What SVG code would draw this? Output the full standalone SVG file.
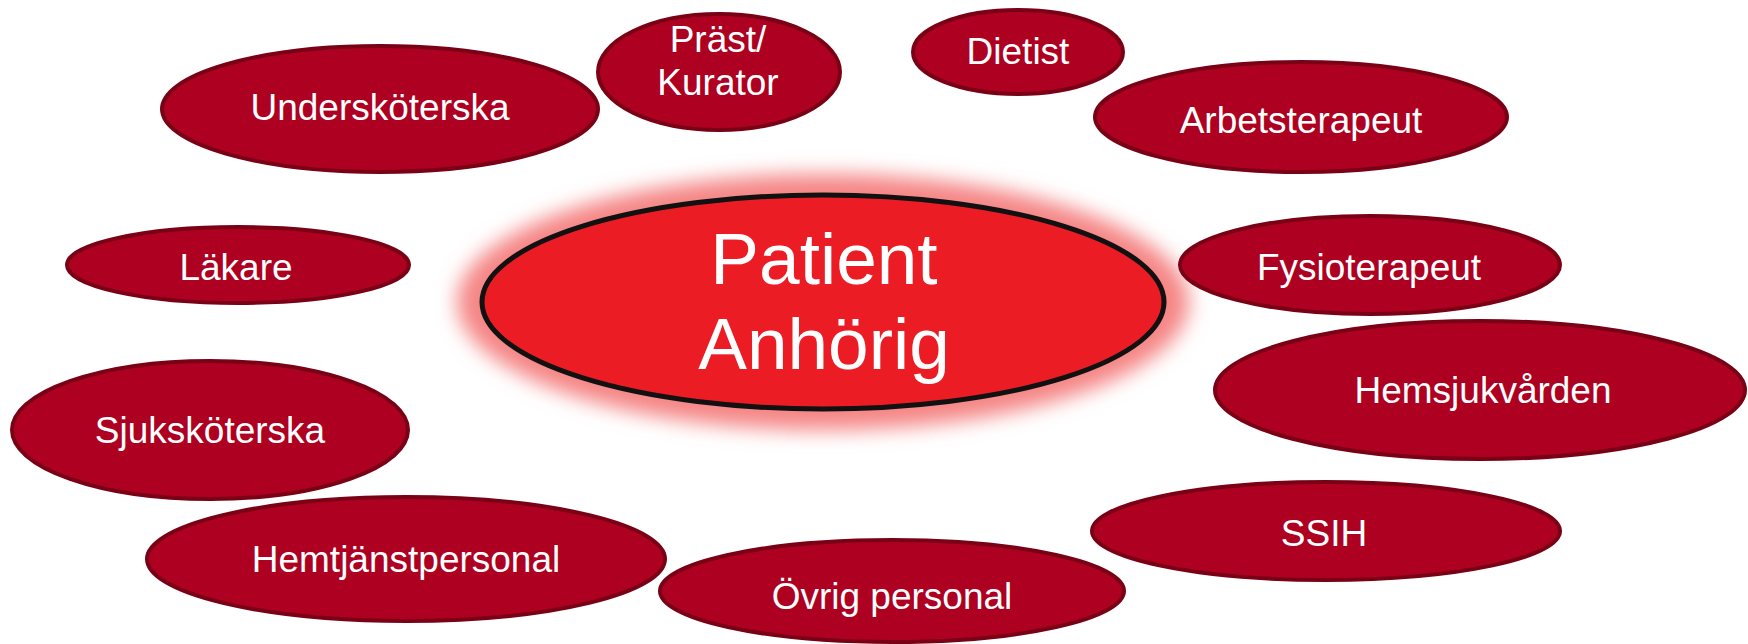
<svg xmlns="http://www.w3.org/2000/svg" width="1748" height="644" viewBox="0 0 1748 644">
<defs>
<style>
.n ellipse{fill:#ae0020;stroke:#7a0016;stroke-width:4}
.n text, .c text{font-family:"Liberation Sans",Arial,sans-serif;fill:#fff;text-anchor:middle}
.n text{font-size:37px}
.c text{font-size:73px}
</style>
<filter id="glow" x="-20%" y="-50%" width="140%" height="200%">
<feGaussianBlur stdDeviation="10"/>
</filter>
</defs>
<rect width="1748" height="644" fill="#fff"/>
<g id="connectors"/>
<g id="patient" class="c">
<ellipse cx="823" cy="302" rx="366" ry="128" fill="#f58585" filter="url(#glow)"/>
<ellipse cx="823" cy="302" rx="341" ry="107" fill="#ec1c24" stroke="#111" stroke-width="5"/>
<text x="824" y="284">Patient</text>
<text x="824" y="369">Anhörig</text>
</g>
<g id="underskoterska" class="n">
<ellipse cx="380" cy="109" rx="218" ry="63"/>
<text x="380" y="120">Undersköterska</text>
</g>
<g id="prast" class="n">
<ellipse cx="719" cy="72" rx="121" ry="58"/>
<text x="718" y="52">Präst/</text>
<text x="718" y="95">Kurator</text>
</g>
<g id="dietist" class="n">
<ellipse cx="1018" cy="52" rx="105" ry="42"/>
<text x="1018" y="64">Dietist</text>
</g>
<g id="arbetsterapeut" class="n">
<ellipse cx="1301" cy="117" rx="206" ry="55"/>
<text x="1301" y="133">Arbetsterapeut</text>
</g>
<g id="lakare" class="n">
<ellipse cx="238" cy="265" rx="171" ry="38"/>
<text x="236" y="280">Läkare</text>
</g>
<g id="fysioterapeut" class="n">
<ellipse cx="1370" cy="265" rx="190" ry="49"/>
<text x="1369" y="280">Fysioterapeut</text>
</g>
<g id="hemsjukvarden" class="n">
<ellipse cx="1480" cy="390" rx="265" ry="69"/>
<text x="1483" y="403">Hemsjukvården</text>
</g>
<g id="sjukskoterska" class="n">
<ellipse cx="210" cy="430" rx="198" ry="69"/>
<text x="210" y="443">Sjuksköterska</text>
</g>
<g id="hemtjanstpersonal" class="n">
<ellipse cx="406" cy="559" rx="259" ry="62"/>
<text x="406" y="572">Hemtjänstpersonal</text>
</g>
<g id="ovrig" class="n">
<ellipse cx="892" cy="591" rx="232" ry="51"/>
<text x="892" y="609">Övrig personal</text>
</g>
<g id="ssih" class="n">
<ellipse cx="1326" cy="531" rx="234" ry="49"/>
<text x="1324" y="546">SSIH</text>
</g>
</svg>
